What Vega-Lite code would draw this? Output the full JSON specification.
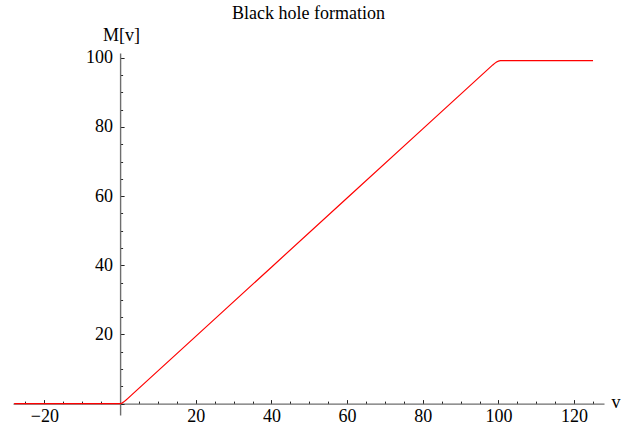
{
  "$schema": "https://vega.github.io/schema/vega-lite/v6.json",
  "width": 591,
  "height": 362,
  "autosize": {"type": "none"},
  "padding": {"left": 13, "top": 53, "right": 30, "bottom": 13},
  "title": {
    "text": "Black hole formation",
    "anchor": "middle",
    "frame": "group",
    "font": "Liberation Serif",
    "fontSize": 18,
    "fontWeight": "normal",
    "color": "#000000",
    "baseline": "alphabetic",
    "offset": -11
  },
  "data": {
    "values": [
      {"v": -28, "M": 0},
      {"v": -1, "M": 0},
      {"v": 0, "M": 0},
      {"v": 0.5, "M": 0.15},
      {"v": 1, "M": 0.5},
      {"v": 1.5, "M": 0.95},
      {"v": 2, "M": 1.45},
      {"v": 3, "M": 2.45},
      {"v": 20, "M": 19.45},
      {"v": 40, "M": 39.45},
      {"v": 60, "M": 59.45},
      {"v": 80, "M": 79.45},
      {"v": 98.5, "M": 97.95},
      {"v": 99, "M": 98.4},
      {"v": 99.5, "M": 98.8},
      {"v": 100, "M": 99.05},
      {"v": 100.5, "M": 99.17},
      {"v": 101, "M": 99.2},
      {"v": 125, "M": 99.2}
    ]
  },
  "mark": {"type": "line", "color": "#ff0000", "strokeWidth": 1.2, "clip": true},
  "encoding": {
    "x": {
      "field": "v",
      "type": "quantitative",
      "scale": {"domain": [-28.3, 127.9], "nice": false, "zero": false},
      "axis": {
        "orient": "bottom",
        "offset": -11.4,
        "values": [-25, -20, -15, -10, -5, 0, 5, 10, 15, 20, 25, 30, 35, 40, 45, 50, 55, 60, 65, 70, 75, 80, 85, 90, 95, 100, 105, 110, 115, 120, 125],
        "labelExpr": "datum.value % 20 === 0 && datum.value !== 0 ? datum.label : ''",
        "grid": false,
        "domainColor": "#6e6e6e",
        "domainWidth": 1.4,
        "tickColor": "#222222",
        "tickWidth": 1,
        "tickSize": {"condition": {"test": "datum.value % 20 === 0", "value": -4}, "value": -2.5},
        "labelPadding": 8,
        "labelFont": "Liberation Serif",
        "labelFontSize": 18,
        "labelColor": "#000000",
        "labelBaseline": "top",
        "labelFlush": false,
        "labelOverlap": false,
        "title": "v",
        "titleFont": "Liberation Serif",
        "titleFontSize": 18,
        "titleFontWeight": "normal",
        "titleColor": "#000000",
        "titleX": 598,
        "titleY": -1,
        "titleAlign": "left",
        "titleBaseline": "middle",
        "titleAnchor": null
      }
    },
    "y": {
      "field": "M",
      "type": "quantitative",
      "scale": {"domain": [-3.3, 101.4], "nice": false, "zero": false},
      "axis": {
        "orient": "left",
        "offset": -107.1,
        "values": [0, 5, 10, 15, 20, 25, 30, 35, 40, 45, 50, 55, 60, 65, 70, 75, 80, 85, 90, 95, 100],
        "labelExpr": "datum.value % 20 === 0 && datum.value !== 0 ? datum.label : ''",
        "grid": false,
        "domainColor": "#6e6e6e",
        "domainWidth": 1.4,
        "tickColor": "#222222",
        "tickWidth": 1,
        "tickSize": {"condition": {"test": "datum.value % 20 === 0", "value": -4}, "value": -2.5},
        "labelPadding": 11.5,
        "labelFont": "Liberation Serif",
        "labelFontSize": 18,
        "labelColor": "#000000",
        "labelAlign": "right",
        "labelBaseline": "middle",
        "labelFlush": false,
        "labelOverlap": false,
        "title": "M[v]",
        "titleFont": "Liberation Serif",
        "titleFontSize": 18,
        "titleFontWeight": "normal",
        "titleColor": "#000000",
        "titleAngle": 0,
        "titleX": 1,
        "titleY": -18,
        "titleAlign": "center",
        "titleBaseline": "middle",
        "titleAnchor": null
      }
    }
  },
  "config": {
    "view": {"stroke": null},
    "font": "Liberation Serif"
  }
}
